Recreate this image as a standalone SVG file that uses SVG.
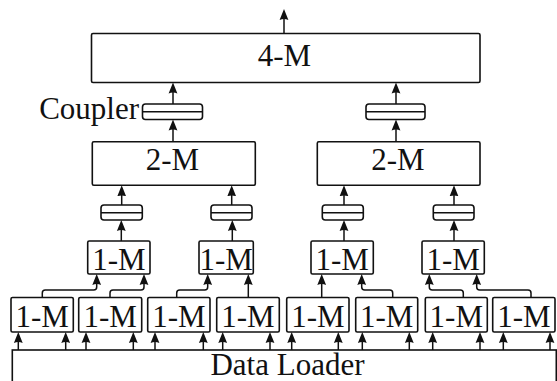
<svg xmlns="http://www.w3.org/2000/svg" width="557" height="381" viewBox="0 0 557 381">
  <style>
    .box { fill: #fff; stroke: #111; stroke-width: 1.6; }
    .wire { fill: none; stroke: #111; stroke-width: 1.5; }
    text { font-size: 31px; fill: #111; }
  </style>
  <defs>
    <marker id="ah" markerUnits="userSpaceOnUse" markerWidth="12" markerHeight="12" viewBox="0 -6 12 12" refX="8" refY="0" orient="auto">
      <path d="M11,0 L0,-4.4 Q1.8,0 0,4.4 Z" fill="#111"/>
    </marker>
  </defs>

  <!-- data loader (runs off the bottom edge) -->
  <g id="loader">
    <rect class="box" x="12.3" y="350" width="544" height="60"/>
    <text x="287.5" y="375" text-anchor="middle" font-family="Liberation Serif">Data Loader</text>
  </g>

  <!-- leaf modules -->
  <g id="m1-leaf-1"><rect class="box" x="11" y="297.5" width="62.3" height="34.5" rx="1.5"/><text x="42.2" y="327" text-anchor="middle" font-size="33" font-family="Liberation Serif">1-M</text></g>
  <g id="m1-leaf-2"><rect class="box" x="78.7" y="297.5" width="63" height="34.5" rx="1.5"/><text x="110.2" y="327" text-anchor="middle" font-size="33" font-family="Liberation Serif">1-M</text></g>
  <g id="m1-leaf-3"><rect class="box" x="147.7" y="297.5" width="62.3" height="34.5" rx="1.5"/><text x="178.9" y="327" text-anchor="middle" font-size="33" font-family="Liberation Serif">1-M</text></g>
  <g id="m1-leaf-4"><rect class="box" x="216.7" y="297.5" width="62.6" height="34.5" rx="1.5"/><text x="248" y="327" text-anchor="middle" font-size="33" font-family="Liberation Serif">1-M</text></g>
  <g id="m1-leaf-5"><rect class="box" x="286.7" y="297.5" width="62.3" height="34.5" rx="1.5"/><text x="317.9" y="327" text-anchor="middle" font-size="33" font-family="Liberation Serif">1-M</text></g>
  <g id="m1-leaf-6"><rect class="box" x="355.7" y="297.5" width="62" height="34.5" rx="1.5"/><text x="386.7" y="327" text-anchor="middle" font-size="33" font-family="Liberation Serif">1-M</text></g>
  <g id="m1-leaf-7"><rect class="box" x="425.3" y="297.5" width="62" height="34.5" rx="1.5"/><text x="456.3" y="327" text-anchor="middle" font-size="33" font-family="Liberation Serif">1-M</text></g>
  <g id="m1-leaf-8"><rect class="box" x="492.7" y="297.5" width="62.3" height="34.5" rx="1.5"/><text x="523.9" y="327" text-anchor="middle" font-size="33" font-family="Liberation Serif">1-M</text></g>

  <!-- merge modules, first level -->
  <g id="m1-merge-1"><rect class="box" x="87.7" y="241" width="62.3" height="33" rx="1.5"/><text x="118.9" y="270" text-anchor="middle" font-size="33" font-family="Liberation Serif">1-M</text></g>
  <g id="m1-merge-2"><rect class="box" x="199" y="241" width="54.3" height="33" rx="1.5"/><text x="226.2" y="270" text-anchor="middle" font-size="33" font-family="Liberation Serif">1-M</text></g>
  <g id="m1-merge-3"><rect class="box" x="311" y="241" width="62.3" height="33" rx="1.5"/><text x="342.2" y="270" text-anchor="middle" font-size="33" font-family="Liberation Serif">1-M</text></g>
  <g id="m1-merge-4"><rect class="box" x="422" y="241" width="62.3" height="33" rx="1.5"/><text x="453.2" y="270" text-anchor="middle" font-size="33" font-family="Liberation Serif">1-M</text></g>

  <!-- couplers -->
  <g id="coupler-1"><rect class="box" x="101" y="205" width="41.3" height="15" rx="3"/><path class="wire" d="M101,212.7 H142.3"/></g>
  <g id="coupler-2"><rect class="box" x="211" y="205" width="41" height="15" rx="3"/><path class="wire" d="M211,212.7 H252"/></g>
  <g id="coupler-3"><rect class="box" x="322.3" y="205" width="41" height="15" rx="3"/><path class="wire" d="M322.3,212.7 H363.3"/></g>
  <g id="coupler-4"><rect class="box" x="433.3" y="205" width="40.7" height="15" rx="3"/><path class="wire" d="M433.3,212.7 H474"/></g>

  <!-- 2-M modules -->
  <g id="m2-left"><rect class="box" x="92.3" y="141.7" width="163" height="43.6" rx="1.5"/><text x="172.5" y="170" text-anchor="middle" font-family="Liberation Serif">2-M</text></g>
  <g id="m2-right"><rect class="box" x="317.3" y="141.7" width="162.7" height="43.6" rx="1.5"/><text x="398" y="170" text-anchor="middle" font-family="Liberation Serif">2-M</text></g>

  <g id="coupler-5">
    <rect class="box" x="142.5" y="104" width="60" height="15.5" rx="3"/><path class="wire" d="M142.5,111.8 H202.5"/>
    <text x="139" y="119" text-anchor="end" font-family="Liberation Serif">Coupler</text>
  </g>
  <g id="coupler-6"><rect class="box" x="366" y="104" width="59" height="15.5" rx="3"/><path class="wire" d="M366,111.8 H425"/></g>

  <!-- 4-M module -->
  <g id="m4"><rect class="box" x="91.5" y="33.5" width="388.5" height="49" rx="1.5"/><text x="284.5" y="66" text-anchor="middle" font-family="Liberation Serif">4-M</text></g>

  <!-- connectors -->
  <g id="connectors" class="wire" marker-end="url(#ah)">
    <!-- loader into leaf modules -->
    <path d="M18.3,350 V335"/><path d="M65.7,350 V335"/>
    <path d="M86,350 V335"/><path d="M133.3,350 V335"/>
    <path d="M155,350 V335"/><path d="M203.3,350 V335"/>
    <path d="M222.7,350 V335"/><path d="M270,350 V335"/>
    <path d="M291.7,350 V335"/><path d="M338.3,350 V335"/>
    <path d="M362.3,350 V335"/><path d="M409.3,350 V335"/>
    <path d="M432.7,350 V335"/><path d="M480,350 V335"/>
    <path d="M503.3,350 V335"/><path d="M550,350 V335"/>

    <!-- leaf modules into first merge level -->
    <path d="M42.3,297.5 V293 Q42.3,290 45.3,290 H93.7 Q96.7,290 96.7,287 V277"/>
    <path d="M110,297.5 V293 Q110,290 113,290 H141 Q144,290 144,287 V277"/>
    <path d="M176.7,297.5 V293 Q176.7,290 179.7,290 H204.7 Q207.7,290 207.7,287 V277"/>
    <path d="M248.3,297.5 V277"/>
    <path d="M321.7,297.5 V277"/>
    <path d="M392.7,297.5 V293 Q392.7,290 389.7,290 H364.7 Q361.7,290 361.7,287 V277"/>
    <path d="M463.3,297.5 V293 Q463.3,290 460.3,290 H432.3 Q429.3,290 429.3,287 V277"/>
    <path d="M531,297.5 V293 Q531,290 528,290 H479.7 Q476.7,290 476.7,287 V277"/>

    <!-- merge modules into couplers -->
    <path d="M121.3,241 V223"/><path d="M232.3,241 V223"/>
    <path d="M344,241 V223"/><path d="M454,241 V223"/>

    <!-- couplers into 2-M -->
    <path d="M121.7,205 V188.3"/><path d="M231.7,205 V188.3"/>
    <path d="M344,205 V188.3"/><path d="M454,205 V188.3"/>

    <!-- 2-M into top couplers -->
    <path d="M173,141.7 V122.5"/><path d="M396,141.7 V122.5"/>

    <!-- top couplers into 4-M -->
    <path d="M173,104 V85.5"/><path d="M396,104 V85.5"/>

    <!-- output -->
    <path d="M284,33.5 V12"/>
  </g>
</svg>
